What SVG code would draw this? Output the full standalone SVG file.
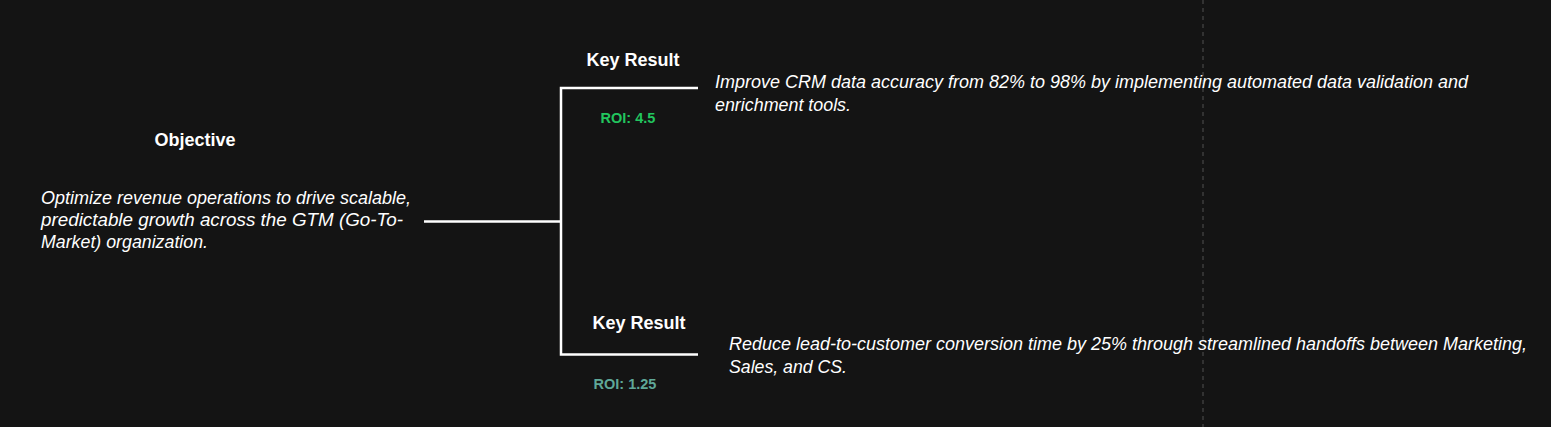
<svg xmlns="http://www.w3.org/2000/svg" width="1551" height="427" viewBox="0 0 1551 427">
<style>
.h{font-family:"Liberation Sans",Arial,sans-serif;font-weight:bold;font-size:18px;fill:#fff;text-anchor:middle}
.b{font-family:"Liberation Sans",Arial,sans-serif;font-style:italic;font-size:18px;fill:#fff}
.roi{font-family:"Liberation Sans",Arial,sans-serif;font-weight:bold;font-size:14.5px;text-anchor:middle}
.c{fill:none;stroke:#fff;stroke-width:2.5}
</style>
<rect width="1551" height="427" fill="#141414"/>
<line x1="1203" y1="0" x2="1203" y2="427" stroke="#3c3c3c" stroke-width="1.5" stroke-dasharray="4 4"/>
<g id="connectors">
<path class="c" d="M424 221.5H561"/>
<path class="c" d="M698 88H561V354.5H698"/>
</g>
<g id="objective">
<text class="h" x="195" y="146">Objective</text>
<text class="b" x="41" y="203.5" textLength="370" lengthAdjust="spacingAndGlyphs">Optimize revenue operations to drive scalable,</text>
<text class="b" x="41" y="225.5" textLength="362" lengthAdjust="spacingAndGlyphs">predictable growth across the GTM (Go-To-</text>
<text class="b" x="41" y="247.5" textLength="167" lengthAdjust="spacingAndGlyphs">Market) organization.</text>
</g>
<g id="kr1">
<text class="h" x="633" y="66">Key Result</text>
<text class="roi" x="628" y="122.5" fill="#22c55e">ROI: 4.5</text>
<text class="b" x="715" y="87.5" textLength="753" lengthAdjust="spacingAndGlyphs">Improve CRM data accuracy from 82% to 98% by implementing automated data validation and</text>
<text class="b" x="715" y="110.5" textLength="136" lengthAdjust="spacingAndGlyphs">enrichment tools.</text>
</g>
<g id="kr2">
<text class="h" x="639" y="329">Key Result</text>
<text class="roi" x="625" y="388.5" fill="#5fa898">ROI: 1.25</text>
<text class="b" x="729" y="350" textLength="798" lengthAdjust="spacingAndGlyphs">Reduce lead-to-customer conversion time by 25% through streamlined handoffs between Marketing,</text>
<text class="b" x="729" y="373" textLength="118" lengthAdjust="spacingAndGlyphs">Sales, and CS.</text>
</g>
</svg>
